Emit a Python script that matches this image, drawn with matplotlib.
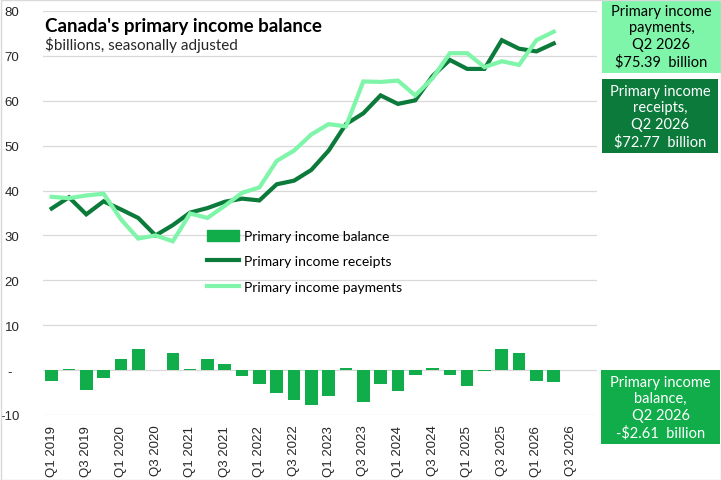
import matplotlib.pyplot as plt
from matplotlib.patches import Rectangle
from matplotlib.lines import Line2D
from matplotlib.patches import Patch
import numpy as np

# quarters on the axis (data runs to Q2 2026, axis to Q4 2026)
quarters = [f"Q{q} {y}" for y in range(2019, 2027) for q in range(1, 5)]

# $billions, seasonally adjusted
receipts = [36.0, 38.5, 34.7, 37.6, 35.8, 33.9, 30.0, 32.3, 35.1, 36.1,
            37.5, 38.2, 37.8, 41.4, 42.2, 44.6, 48.9, 54.8, 57.2, 61.2,
            59.3, 60.1, 65.5, 69.1, 67.1, 67.1, 73.5, 71.6, 71.0, 72.77]
payments = [38.6, 38.3, 38.9, 39.3, 33.6, 29.3, 30.0, 28.7, 34.9, 33.9,
            36.6, 39.5, 40.7, 46.6, 48.9, 52.5, 54.8, 54.3, 64.3, 64.2,
            64.5, 61.2, 65.0, 70.6, 70.6, 67.5, 68.8, 68.0, 73.5, 75.39]
balance = [-2.4, 0.3, -4.4, -1.7, 2.4, 4.75, 0.0, 3.9, 0.3, 2.4,
           1.3, -1.4, -3.0, -5.0, -6.6, -7.7, -5.7, 0.5, -7.2, -3.0,
           -4.75, -1.2, 0.5, -1.2, -3.5, -0.3, 4.75, 3.9, -2.4, -2.61]

c_bar = '#12AD4B'
c_rec = '#0B7A3A'
c_pay = '#7FF5AA'

fig = plt.figure(figsize=(7.21, 4.81), dpi=100)
ax = fig.add_axes([43/721, 1-416/481, (597-43)/721, (416-12)/481])

x = np.arange(len(balance))
ax.bar(x, balance, width=0.73, color=c_bar, zorder=2)
ax.plot(x, receipts, color=c_rec, lw=3, zorder=3, solid_joinstyle='miter')
ax.plot(x, payments, color=c_pay, lw=3, zorder=4, solid_joinstyle='miter')

ax.set_xlim(-0.5, len(quarters) - 0.5)
ax.set_ylim(-10, 80)
ax.set_yticks(range(-10, 81, 10))
ax.set_yticklabels(['-10', '-  '] + [str(v) for v in range(10, 81, 10)],
                   fontfamily='Liberation Sans', fontsize=9.5)
ticks = list(range(0, 31, 2))
ax.set_xticks(ticks)
ax.set_xticklabels([quarters[i] for i in ticks], rotation=90,
                   fontfamily='Liberation Sans', fontsize=9.5)
ax.tick_params(axis='both', length=0, colors='#262626')
ax.tick_params(axis='y', pad=17)
ax.tick_params(axis='x', pad=7)
ax.grid(axis='y', color='#D9D9D9', lw=0.9, zorder=0)
ax.set_axisbelow(True)
for s in ax.spines.values():
    s.set_visible(False)

handles = [Patch(color=c_bar), Line2D([], [], color=c_rec, lw=3),
           Line2D([], [], color=c_pay, lw=3)]
labels = ['Primary income balance', 'Primary income receipts',
          'Primary income payments']
ax.legend(handles, labels, loc='upper left', frameon=False,
          bbox_to_anchor=(200/721, 1-224/481), bbox_transform=fig.transFigure,
          borderpad=0, handlelength=2.3, handleheight=0.8, handletextpad=0.4,
          labelspacing=0.95, prop={'family': 'Lato', 'size': 10})

fig.text(45/721, 1-32/481, "Canada's primary income balance", fontfamily='Lato',
         fontweight='bold', fontsize=13.5, va='baseline', color='black')
fig.text(45/721, 1-50/481, "$billions, seasonally adjusted", fontfamily='Lato',
         fontsize=11, va='baseline', color='#262626')

# callout boxes on the right
boxes = [
    (602, 0, 721, 74, c_pay, 'black',
     'Primary income\npayments,\nQ2 2026\n$75.39  billion'),
    (602, 80, 718, 154, c_rec, 'white',
     'Primary income\nreceipts,\nQ2 2026\n$72.77  billion'),
    (601, 371, 720, 445, c_bar, 'white',
     'Primary income\nbalance,\nQ2 2026\n-$2.61  billion'),
]
for x0, y0, x1, y1, fc, tc, txt in boxes:
    fig.add_artist(Rectangle((x0/721, 1-y1/481), (x1-x0)/721, (y1-y0)/481,
                             transform=fig.transFigure, fc=fc, ec='none'))
    fig.text((x0+x1)/2/721, 1-(y0+y1)/2/481, txt, ha='center', va='center',
             fontfamily='Lato', fontsize=10.5, color=tc, linespacing=1.25)

fig.add_artist(Rectangle((0.5/721, 0.5/481), 720/721, 480/481,
                         transform=fig.transFigure, fc='none', ec='#D9D9D9', lw=1))

fig.savefig('out.png', dpi=100)
